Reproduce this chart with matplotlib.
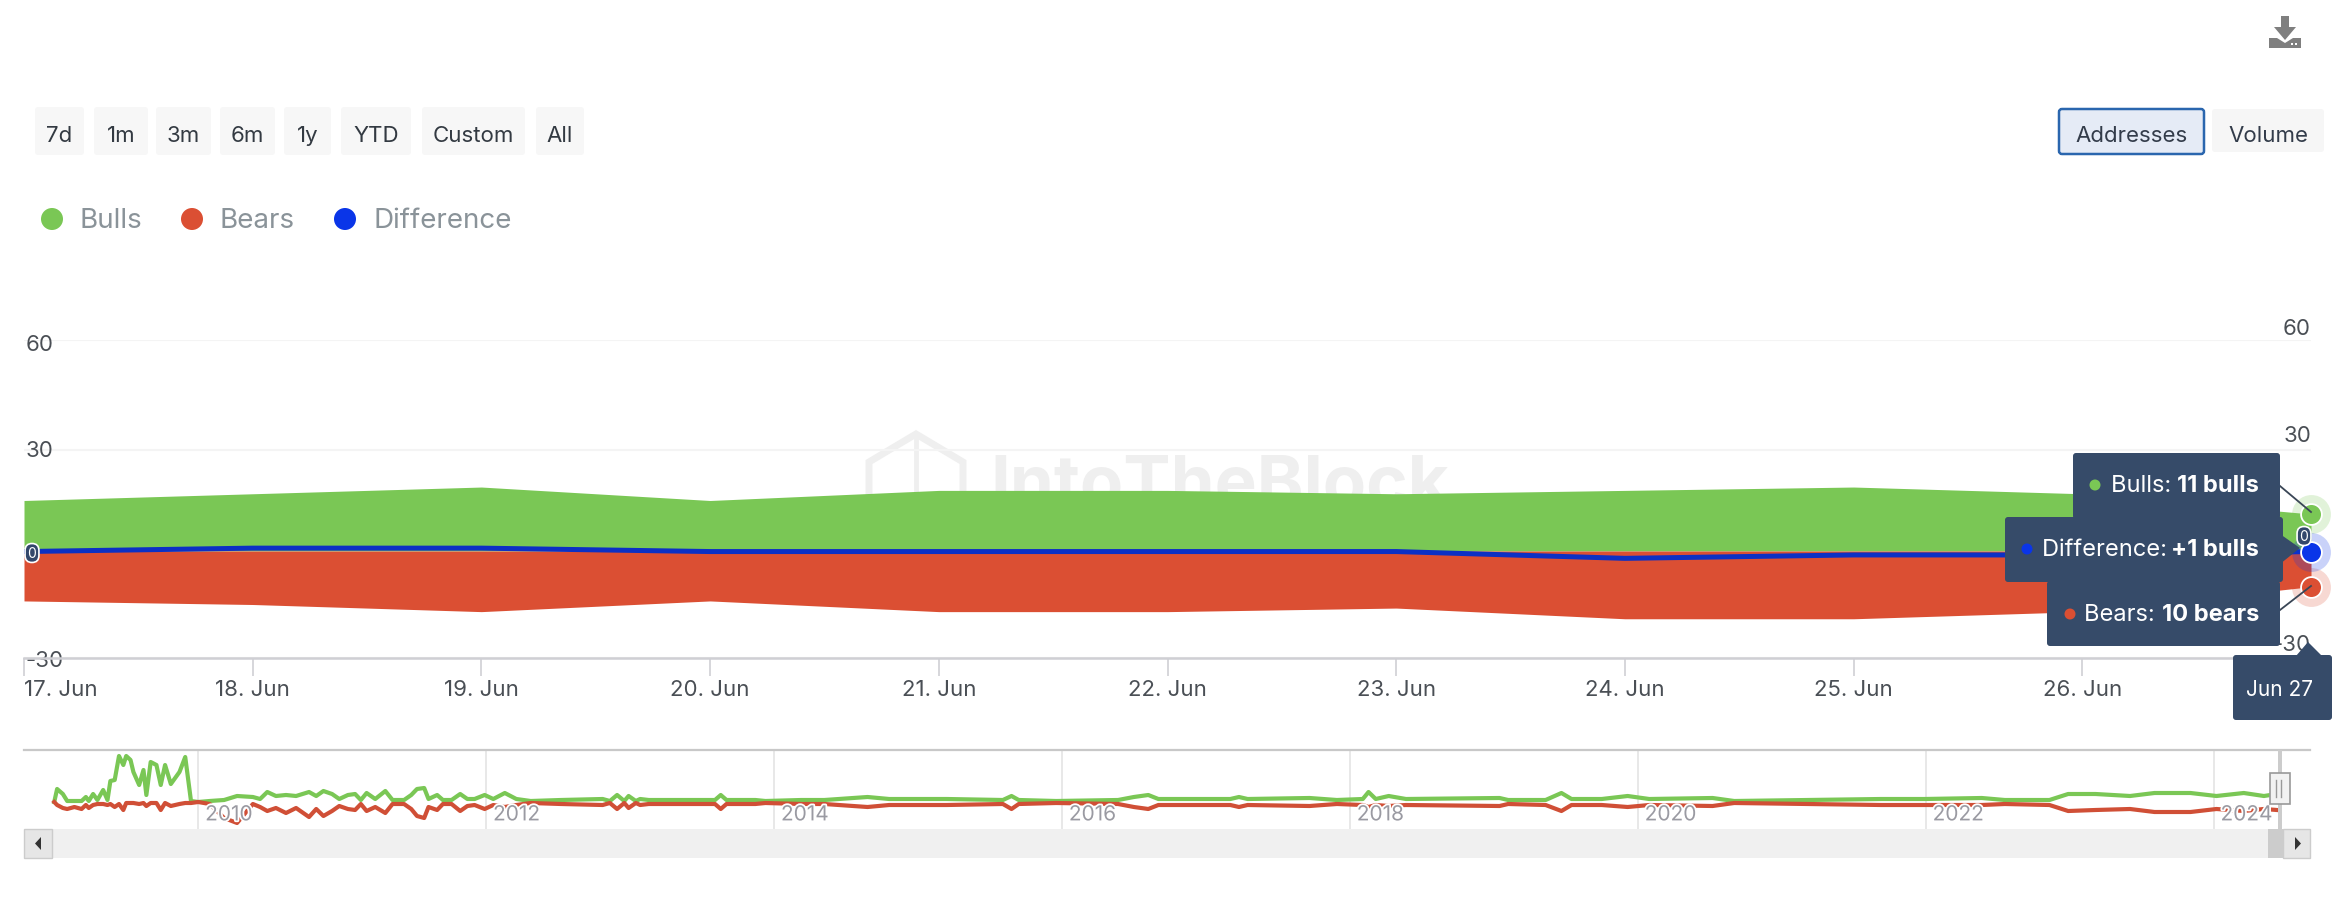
import numpy as np
import matplotlib
matplotlib.use("Agg")
import matplotlib.pyplot as plt
import matplotlib.patheffects as pe
from matplotlib.patches import FancyBboxPatch, Polygon, Rectangle, Circle
from matplotlib.transforms import ScaledTranslation

plt.rcParams['font.family'] = ['Inter', 'DejaVu Sans']

W, H = 2344, 904

# main chart, last 11 days
days = list(range(11))
day_labels = ["17. Jun", "18. Jun", "19. Jun", "20. Jun", "21. Jun", "22. Jun",
              "23. Jun", "24. Jun", "25. Jun", "26. Jun"]
bulls = [15, 17, 19, 15, 18, 18, 17, 18, 19, 17, 11]
bears = [-14, -15, -17, -14, -17, -17, -16, -19, -19, -17, -10]
difference = [1, 2, 2, 1, 1, 1, 1, -1, 0, 0, 1]
y_ticks = [-30, 30, 60]

# navigator, whole history
nav_years = [2009.00, 2009.02, 2009.06, 2009.09, 2009.14, 2009.19, 2009.22, 2009.24, 2009.27, 2009.30,
             2009.34, 2009.37, 2009.39, 2009.42, 2009.45, 2009.48, 2009.50, 2009.53, 2009.55, 2009.59,
             2009.62, 2009.64, 2009.67, 2009.71, 2009.74, 2009.77, 2009.81, 2009.87, 2009.91, 2009.95,
             2010.00, 2010.08, 2010.18, 2010.27, 2010.38, 2010.43, 2010.48, 2010.54, 2010.61, 2010.68,
             2010.77, 2010.82, 2010.87, 2010.93, 2010.98, 2011.04, 2011.09, 2011.13, 2011.17, 2011.23,
             2011.30, 2011.35, 2011.43, 2011.48, 2011.52, 2011.57, 2011.60, 2011.66, 2011.70, 2011.76,
             2011.82, 2011.87, 2011.92, 2011.99, 2012.05, 2012.13, 2012.21, 2012.31, 2012.52, 2012.81,
             2012.86, 2012.91, 2012.96, 2012.99, 2013.04, 2013.07, 2013.13, 2013.59, 2013.63, 2013.67,
             2013.87, 2013.94, 2014.19, 2014.35, 2014.65, 2014.80, 2015.20, 2015.59, 2015.65, 2015.70,
             2015.96, 2016.39, 2016.50, 2016.60, 2016.67, 2017.17, 2017.23, 2017.29, 2017.72, 2017.91,
             2018.09, 2018.13, 2018.18, 2018.27, 2018.39, 2019.04, 2019.10, 2019.36, 2019.47, 2019.54,
             2019.75, 2019.93, 2020.08, 2020.52, 2020.62, 2020.67, 2021.69, 2021.99, 2022.39, 2022.55,
             2022.86, 2022.99, 2023.18, 2023.42, 2023.59, 2023.84, 2024.02, 2024.21, 2024.35, 2024.44]
nav_bulls = [0, 13, 8, 1, 1, 1, 5, 1, 8, 2,
             12, 2, 21, 22, 46, 37, 46, 42, 30, 17,
             32, 7, 40, 37, 17, 37, 18, 30, 45, 1,
             0, 1, 2, 6, 5, 3, 10, 6, 7, 6,
             10, 6, 11, 8, 3, 7, 8, 2, 9, 3,
             11, 2, 2, 7, 13, 14, 3, 7, 2, 2,
             8, 3, 3, 7, 3, 9, 3, 1, 2, 3,
             1, 7, 1, 6, 1, 3, 2, 2, 7, 2,
             2, 1, 2, 2, 5, 3, 3, 2, 6, 2,
             1, 2, 5, 7, 3, 3, 5, 3, 4, 2,
             3, 10, 3, 6, 3, 4, 2, 2, 9, 3,
             3, 6, 3, 4, 2, 1, 3, 3, 4, 2,
             2, 8, 8, 6, 9, 9, 6, 9, 6, 8]
nav_bears = [0, -3, -6, -7, -5, -7, -3, -6, -3, -2,
             -2, -3, -2, -5, -2, -8, -1, -1, -1, -2,
             -1, -4, -1, -1, -8, -1, -4, -2, -1, -1,
             0, -2, -16, -21, -2, -5, -9, -6, -11, -6,
             -15, -7, -14, -9, -4, -7, -8, -2, -9, -5,
             -11, -2, -2, -7, -14, -16, -5, -8, -2, -2,
             -9, -4, -3, -7, -3, -5, -3, -1, -2, -3,
             -1, -7, -1, -6, -1, -3, -2, -2, -7, -2,
             -2, -1, -2, -2, -5, -3, -3, -2, -7, -2,
             -1, -2, -5, -7, -3, -3, -5, -3, -4, -2,
             -3, -5, -3, -4, -3, -4, -2, -3, -9, -3,
             -3, -5, -3, -4, -2, -1, -3, -3, -3, -2,
             -3, -9, -8, -7, -10, -10, -7, -9, -7, -8]
nav_labels = [2010, 2012, 2014, 2016, 2018, 2020, 2022, 2024]

range_buttons = ["7d", "1m", "3m", "6m", "1y", "YTD", "Custom", "All"]

GREEN = "#7ac755"
RED = "#db4f33"
BLUE = "#0a35e8"
DARK = "#364b69"
TICK = "#4a4f55"


def px_axes(left, top, right, bottom):
    return fig.add_axes([left / W, 1 - bottom / H, (right - left) / W, (bottom - top) / H])


def box(a, x0, y0, x1, y1, fc, ec="none", lw=0, r=3, z=1):
    a.add_patch(FancyBboxPatch((x0 + r, y0 + r), x1 - x0 - 2 * r, y1 - y0 - 2 * r,
                               boxstyle="round,pad=%d,rounding_size=%d" % (r, r),
                               fc=fc, ec=ec, lw=lw, zorder=z))


fig = plt.figure(figsize=(W / 100, H / 100), dpi=100, facecolor="white")

# watermark goes behind the areas
back = fig.add_axes([0, 0, 1, 1], zorder=0)
back.set_xlim(0, W)
back.set_ylim(H, 0)
back.axis("off")
back.add_patch(Polygon([[916, 435], [963, 463], [963, 505], [916, 535], [869, 505], [869, 463]],
                       closed=True, fc="none", ec="#efefef", lw=5))
back.plot([916, 916], [435, 500], color="#efefef", lw=3.5)
back.text(990, 506, "IntoTheBlock", fontsize=51, fontweight="bold", color="#efefef", ha="left", va="baseline")

# main axes, the y scale is not quite even in the picture
scale_vals = [-30, 0, 30, 60]
scale_h = [0, 107, 208, 318]
ax = px_axes(24, 341, 2311, 659)
ax.set_zorder(1)
ax.patch.set_visible(False)
ax.set_yscale("function", functions=(lambda v: np.interp(v, scale_vals, scale_h),
                                     lambda h: np.interp(h, scale_h, scale_vals)))
ax.set_xlim(0, 10)
ax.set_ylim(-30, 60)
ax.fill_between(days, 0, bulls, color=GREEN, lw=0, zorder=2)
ax.fill_between(days, 0, bears, color=RED, lw=0, zorder=2)
ax.set_yticks(y_ticks)
ax.set_yticks([], minor=True)
ax.set_yticklabels([str(v) for v in y_ticks])
ax.tick_params(axis="y", length=0, pad=-1, labelsize=16, labelcolor=TICK)
# left labels are not centred on their grid lines
left_shift = {"-30": 0, "30": -2, "60": 2}
for lab in ax.get_yticklabels():
    lab.set_ha("left")
    lab.set_zorder(6)
    lab.set_transform(lab.get_transform() + ScaledTranslation(0, -left_shift[lab.get_text()] * 0.72 / 72, fig.dpi_scale_trans))
ax.grid(axis="y", color="#f4f4f4", lw=1.5, zorder=0)
ax.set_axisbelow(True)
ax.set_xticks(days[:-1])
ax.set_xticklabels(day_labels)
ax.get_xticklabels()[0].set_ha("left")
ax.tick_params(axis="x", length=13, width=1.2, color="#d0d0d4", pad=2, labelsize=16, labelcolor=TICK)
for s in ["top", "left", "right"]:
    ax.spines[s].set_visible(False)
ax.spines["bottom"].set_color("#cfcfd4")
ax.spines["bottom"].set_linewidth(1.8)
right_offset = {-30: 10, 30: 11, 60: 8.5}
for v in y_ticks:
    ax.annotate(str(v), xy=(1, v), xycoords=ax.get_yaxis_transform(), xytext=(0, right_offset[v]),
                textcoords="offset points", ha="right", va="center", fontsize=16, color=TICK)

# difference has its own axis on the right, zero sits a bit lower
ax2 = ax.twinx()
ax2.set_zorder(2)
ax2.patch.set_visible(False)
ax2.set_ylim(-30.3, 63.2)
ax2.axis("off")
ax2.plot(days, difference, color="#0c30c4", lw=3.6, solid_joinstyle="round", zorder=3)

# hover markers on the last day
for a, vals, col in [(ax, bulls, GREEN), (ax2, difference, BLUE), (ax, bears, RED)]:
    a.plot(days[-1], vals[-1], "o", ms=28, color=col, alpha=0.22, mew=0, clip_on=False, zorder=5)
    a.plot(days[-1], vals[-1], "o", ms=15, color=col, mec="white", mew=1.3, clip_on=False, zorder=6)

# navigator
nav = px_axes(24, 751, 2310, 830)
nav.set_zorder(1)
nav.patch.set_visible(False)
nav.set_xlim(2008.79, 2024.67)
nav.set_ylim(-27, 52)
nav.plot(nav_years, nav_bulls, color=GREEN, lw=3, solid_joinstyle="round", zorder=3)
nav.plot(nav_years, nav_bears, color="#d04f36", lw=3, solid_joinstyle="round", zorder=3)
nav.set_xticks(nav_labels)
nav.set_xticklabels([])
nav.set_yticks([])
nav.tick_params(length=0)
nav.grid(axis="x", color="#e6e6e6", lw=1.3, zorder=1)
nav.set_axisbelow(True)
for s in ["left", "right", "bottom"]:
    nav.spines[s].set_visible(False)
nav.spines["top"].set_color("#c8c8c8")
nav.spines["top"].set_linewidth(1.6)
for yr in nav_labels:
    nav.annotate(str(yr), xy=(yr, 0), xycoords=nav.get_xaxis_transform(), xytext=(5, 10.5),
                 textcoords="offset points", ha="left", va="center", fontsize=15, color="#9a9aa2",
                 zorder=4, path_effects=[pe.withStroke(linewidth=2.5, foreground="white")])

# buttons, legend, tooltips in pixel coordinates
top = fig.add_axes([0, 0, 1, 1], zorder=5)
top.set_xlim(0, W)
top.set_ylim(H, 0)
top.axis("off")
top.patch.set_visible(False)

button_x = [(35, 84), (94, 148), (156, 211), (220, 275), (284, 331), (341, 411), (422, 525), (536, 584)]
for name, (x0, x1) in zip(range_buttons, button_x):
    box(top, x0, 108, x1, 156, "#f7f7f7")
    top.text((x0 + x1) / 2, 136, name, ha="center", va="center", fontsize=16, color="#333a42")

box(top, 2059, 110, 2204, 155, "#e5ebf6", "#2a66ae", 1.8)
top.text(2131.5, 136, "Addresses", ha="center", va="center", fontsize=16, color="#333c4a")
box(top, 2212, 110, 2324, 153, "#f6f6f6")
top.text(2268, 136, "Volume", ha="center", va="center", fontsize=16, color="#333c4a")

# download icon
top.add_patch(Polygon([[2281, 17], [2289, 17], [2289, 28], [2296, 28], [2285, 41], [2274, 28], [2281, 28]],
                      closed=True, fc="#7f7f7f", ec="none"))
top.add_patch(Polygon([[2269, 39], [2277, 39], [2285, 44], [2293, 39], [2301, 39], [2301, 49], [2269, 49]],
                      closed=True, fc="#7f7f7f", ec="none"))
top.add_patch(Rectangle((2291, 44), 2, 2, fc="white", ec="none"))
top.add_patch(Rectangle((2295, 44), 2, 2, fc="white", ec="none"))

legend_items = [("Bulls", GREEN, 52, 79), ("Bears", RED, 192, 220), ("Difference", BLUE, 345, 373)]
for name, col, cx, tx in legend_items:
    top.add_patch(Circle((cx, 220), 11, fc=col, ec="none"))
    top.text(tx, 221, name, ha="left", va="center", fontsize=20, color="#8a9399")

# zero badges
for bx, by in [(32, 554), (2304, 537)]:
    top.text(bx, by, "0", ha="center", va="center", fontsize=10, color="white",
             bbox=dict(boxstyle="round,pad=0.18,rounding_size=0.5", fc="#33476b", ec="white", lw=1.2))

# connector lines then tooltip boxes
top.plot([2280, 2311], [487, 513], color="#3a4656", lw=1.3, zorder=1)
top.plot([2280, 2311], [611, 587], color="#3a4656", lw=1.3, zorder=1)
top.add_patch(Polygon([[2280, 535], [2300, 549], [2280, 565]], closed=True, fc=DARK, ec="none", zorder=2))
box(top, 2073, 454, 2280, 520, DARK, z=2)
box(top, 2005, 518, 2283, 583, DARK, z=2)
box(top, 2047, 582, 2280, 647, DARK, z=2)
tips = [(486, 2095, 2111, "Bulls: ", "11 bulls", GREEN),
        (550, 2027, 2042, "Difference: ", "+1 bulls", BLUE),
        (615, 2070, 2084, "Bears: ", "10 bears", RED)]
for ty, dx, tx, plain, strong, col in tips:
    top.add_patch(Circle((dx, ty), 5.5, fc=col, ec="none", zorder=3))
    top.text(tx, ty, plain, ha="left", va="center", fontsize=17, color="white", zorder=3)
    top.text(2259, ty, strong, ha="right", va="center", fontsize=17, fontweight="bold", color="white", zorder=3)

top.add_patch(Polygon([[2296, 657], [2308, 643], [2322, 657]], closed=True, fc=DARK, ec="none", zorder=2))
box(top, 2233, 656, 2332, 721, DARK, z=2)
top.text(2280, 690, "Jun 27", ha="center", va="center", fontsize=15, color="white", zorder=3)

# scrollbar
top.add_patch(Rectangle((24, 830), 2286, 29, fc="#f0f0f0", ec="none"))
top.add_patch(Rectangle((24, 830), 28, 29, fc="#e6e6e6", ec="#cccccc", lw=1))
top.add_patch(Rectangle((2283, 830), 27, 29, fc="#e6e6e6", ec="#cccccc", lw=1))
top.add_patch(Rectangle((2268, 830), 15, 29, fc="#cccccc", ec="none"))
top.add_patch(Polygon([[41, 838], [41, 851], [35, 844.5]], closed=True, fc="#333333", ec="none"))
top.add_patch(Polygon([[2295, 838], [2295, 851], [2301, 844.5]], closed=True, fc="#333333", ec="none"))

# navigator handle
top.add_patch(Rectangle((2278, 751), 4, 79, fc="#cccccc", ec="none"))
top.add_patch(Rectangle((2270, 774), 20, 31, fc="#f2f2f2", ec="#999999", lw=1.2))
top.plot([2276, 2276], [781, 798], color="#999999", lw=1)
top.plot([2281, 2281], [781, 798], color="#999999", lw=1)

fig.savefig("out.png", dpi=100)
